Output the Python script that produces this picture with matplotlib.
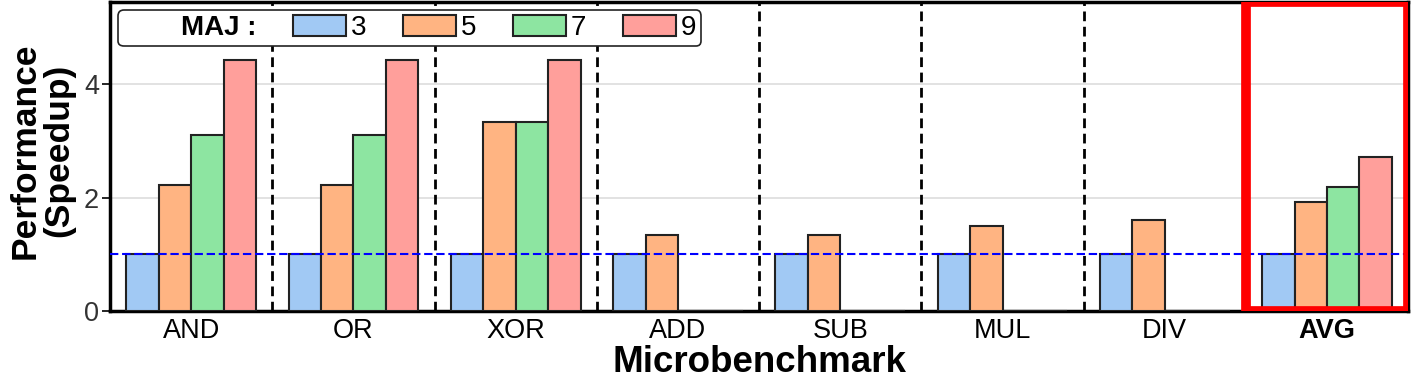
import matplotlib
matplotlib.use("Agg")
import matplotlib.pyplot as plt
import matplotlib.patches as mpatches
import numpy as np

categories = ["AND", "OR", "XOR", "ADD", "SUB", "MUL", "DIV", "AVG"]
maj_labels = ["3", "5", "7", "9"]
maj3 = [1.0, 1.0, 1.0, 1.0, 1.0, 1.0, 1.0, 1.0]
maj5 = [2.22, 2.22, 3.33, 1.34, 1.34, 1.50, 1.60, 1.93]
maj7 = [3.10, 3.10, 3.33, 0, 0, 0, 0, 2.19]
maj9 = [4.43, 4.43, 4.43, 0, 0, 0, 0, 2.72]
series = [maj3, maj5, maj7, maj9]
colors = ["#a1c9f4", "#ffb482", "#8de5a1", "#ff9f9b"]

plt.rcParams["font.family"] = ["Liberation Sans", "DejaVu Sans"]

fig = plt.figure(figsize=(14.11, 3.9), dpi=100)
ax = fig.add_axes([0.078, 0.2026, 0.920, 0.7924])

x = np.arange(len(categories))
w = 0.2
for i, (vals, c) in enumerate(zip(series, colors)):
    ax.bar(x + (i - 1.5) * w, vals, w, color=c, edgecolor="#222222",
           linewidth=1.5, zorder=3)

ax.set_xlim(-0.5, len(categories) - 0.5)
ax.set_ylim(0, 5.45)
ax.set_yticks([0, 2, 4])
ax.grid(axis="y", color="#dddddd", linewidth=1.2, zorder=0)
ax.set_axisbelow(True)

ax.axhline(1.0, color="blue", linestyle=(0, (4, 1.8)), linewidth=1.5, zorder=4)
for b in np.arange(0.5, len(categories) - 1.5, 1.0):
    ax.axvline(b, color="black", linestyle=(0, (3.5, 2)), linewidth=2, zorder=4)

rect = mpatches.Rectangle((len(categories) - 1.5, 0), 1.0, 5.45,
                          fill=False, edgecolor="#ff0000", linewidth=7,
                          zorder=5, transform=ax.transData, clip_on=True)
ax.add_patch(rect)

ax.set_xticks(x)
ax.set_xticklabels(categories, fontsize=19.5)
ax.get_xticklabels()[-1].set_fontweight("bold")
ax.tick_params(axis="x", length=0, pad=5)
ax.tick_params(axis="y", labelsize=19.5, length=6, width=1.2, pad=2)
for lab in ax.get_yticklabels():
    lab.set_color("#333333")

for s in ax.spines.values():
    s.set_linewidth(2.5)
    s.set_color("black")

ax.set_xlabel("Microbenchmark", fontsize=26.5, fontweight="bold", labelpad=1)
ax.set_ylabel("Performance\n(Speedup)", fontsize=25.5, fontweight="bold",
              linespacing=1.0)
ax.yaxis.set_label_coords(-0.027, 0.52)

handles = [mpatches.Rectangle((0, 0), 1, 1, fill=False, edgecolor="none")]
handles += [mpatches.Rectangle((0, 0), 1, 1, facecolor=c, edgecolor="#222222",
                               linewidth=1.5) for c in colors]
leg = ax.legend(handles, ["MAJ :"] + maj_labels, loc="upper left",
                ncol=5, fontsize=20, frameon=True, fancybox=True,
                edgecolor="#222222", framealpha=1, handlelength=1.9,
                handleheight=0.75, handletextpad=0.18, columnspacing=1.32,
                borderpad=0.18, borderaxespad=0.3,
                bbox_to_anchor=(0.0, 1.0))
leg.get_frame().set_linewidth(1.2)
leg.get_texts()[0].set_fontweight("bold")
leg.set_zorder(10)

fig.savefig("out.png", dpi=100)
